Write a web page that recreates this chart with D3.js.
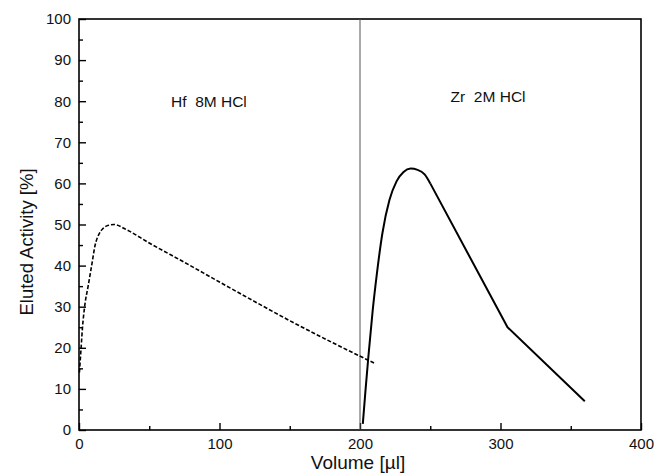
<!DOCTYPE html>
<html>
<head>
<meta charset="utf-8">
<script src="https://cdn.jsdelivr.net/npm/d3@7"></script>
<style>
  body { margin: 0; background: #fff; }
  text { font-family: 'Liberation Sans', Arial, sans-serif; fill: #111; }
</style>
</head>
<body>
<script>
// Hf eluted with 8M HCl (dashed)
const hfVolume = [0.3, 1.5, 2.5, 4, 6.5, 9, 11.5, 14, 17, 21, 25, 34, 50, 75, 100, 129, 150, 179, 210];
const hfActivity = [14, 20, 25, 30, 35, 40, 45, 47.5, 49, 49.8, 50, 48.7, 45.5, 40.8, 36, 30.5, 26.6, 21.5, 16.3];

// Zr eluted with 2M HCl (solid); smooth up to 250 µl, straight segments after
const zrVolume = [202, 204, 206, 209, 212, 216, 221, 226, 231, 236, 241, 246, 250, 305, 360];
const zrActivity = [1.5, 10, 18, 29, 38, 48, 56, 60.5, 62.8, 63.6, 63.3, 62.2, 60, 25, 7];
const zrBend = 250;

const xTicks = [0, 100, 200, 300, 400];
const yTicks = [0, 10, 20, 30, 40, 50, 60, 70, 80, 90, 100];
const switchVolume = 200;

const width = 656, height = 475;
const margin = {top: 19, right: 15, bottom: 45, left: 79};

const svg = d3.select('body').append('svg')
    .attr('width', width)
    .attr('height', height);

const x = d3.scaleLinear().domain([0, 400]).range([margin.left, width - margin.right]);
const y = d3.scaleLinear().domain([0, 100]).range([height - margin.bottom, margin.top]);

// frame
svg.append('rect')
    .attr('x', x(0))
    .attr('y', y(100))
    .attr('width', x(400) - x(0))
    .attr('height', y(0) - y(100))
    .attr('fill', 'none')
    .attr('stroke', '#000')
    .attr('stroke-width', 1.6);

// x axis, ticks pointing inward
const xAxis = svg.append('g')
    .attr('transform', `translate(0,${y(0)})`)
    .call(d3.axisBottom(x).tickValues(d3.range(0, 401, 50)).tickSize(-7).tickPadding(8)
        .tickFormat(d => xTicks.includes(d) ? d : ''));
xAxis.selectAll('.tick line')
    .attr('y2', d => xTicks.includes(d) ? -7 : -4)
    .attr('stroke-width', 1.4);
xAxis.select('.domain').remove();
xAxis.selectAll('text').attr('font-size', 15).attr('font-family', 'Liberation Sans, Arial, sans-serif');

// y axis
const yAxis = svg.append('g')
    .attr('transform', `translate(${x(0)},0)`)
    .call(d3.axisLeft(y).tickValues(d3.range(0, 101, 5)).tickSize(-7).tickPadding(8)
        .tickFormat(d => yTicks.includes(d) ? d : ''));
yAxis.selectAll('.tick line')
    .attr('x2', d => yTicks.includes(d) ? 7 : 4)
    .attr('stroke-width', 1.4);
yAxis.select('.domain').remove();
yAxis.selectAll('text').attr('font-size', 15).attr('font-family', 'Liberation Sans, Arial, sans-serif');

// switch of eluent
svg.append('line')
    .attr('x1', x(switchVolume)).attr('x2', x(switchVolume))
    .attr('y1', y(0)).attr('y2', y(100))
    .attr('stroke', '#555')
    .attr('stroke-width', 1);

const smooth = d3.line()
    .x(d => x(d[0]))
    .y(d => y(d[1]))
    .curve(d3.curveMonotoneX);

const straight = d3.line()
    .x(d => x(d[0]))
    .y(d => y(d[1]));

svg.append('path')
    .datum(d3.zip(hfVolume, hfActivity))
    .attr('fill', 'none')
    .attr('stroke', '#000')
    .attr('stroke-width', 1.6)
    .attr('stroke-dasharray', '4,2')
    .attr('d', smooth);

const zr = d3.zip(zrVolume, zrActivity);

svg.append('path')
    .datum(zr.filter(d => d[0] <= zrBend))
    .attr('fill', 'none')
    .attr('stroke', '#000')
    .attr('stroke-width', 2)
    .attr('d', smooth);

svg.append('path')
    .datum(zr.filter(d => d[0] >= zrBend))
    .attr('fill', 'none')
    .attr('stroke', '#000')
    .attr('stroke-width', 2)
    .attr('stroke-linejoin', 'round')
    .attr('d', straight);

// annotations
svg.append('text')
    .attr('x', x(65.5))
    .attr('y', y(80) + 6)
    .attr('font-size', 15.5)
    .attr('xml:space', 'preserve')
    .text('Hf  8M HCl');

svg.append('text')
    .attr('x', x(264.5))
    .attr('y', y(80) + 1)
    .attr('font-size', 15.5)
    .attr('xml:space', 'preserve')
    .text('Zr  2M HCl');

// axis titles
svg.append('text')
    .attr('x', 358)
    .attr('y', 469)
    .attr('text-anchor', 'middle')
    .attr('font-size', 19)
    .text('Volume [µl]');

svg.append('text')
    .attr('transform', 'translate(33,242) rotate(-90)')
    .attr('text-anchor', 'middle')
    .attr('font-size', 18.5)
    .text('Eluted Activity [%]');
</script>
</body>
</html>
